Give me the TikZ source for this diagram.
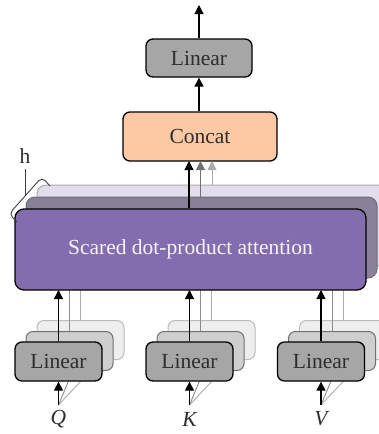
\documentclass[tikz,border=0pt]{standalone}
\usepackage{fontspec}
\setmainfont{Liberation Serif}
\usetikzlibrary{arrows.meta}
\definecolor{concatfill}{HTML}{FCC9A4}
\definecolor{attfront}{HTML}{836DAE}
\definecolor{attmid}{HTML}{8B8099}
\definecolor{attback}{HTML}{E1DDEB}
\definecolor{linfront}{HTML}{A6A6A6}
\definecolor{linmid}{HTML}{CFCFCF}
\definecolor{linback}{HTML}{EEEEEE}
\definecolor{txt}{HTML}{2E2E2E}
\definecolor{gmid}{HTML}{707070}
\definecolor{glight}{HTML}{ABABAB}
\tikzset{
  box/.style={draw=black, line width=1.3pt, rounded corners=7pt, inner sep=0pt,
    text=txt, font=\fontsize{21.5}{24}\selectfont},
  linbox/.style={box, fill=linfront, minimum width=87pt, minimum height=39pt},
  linmidbox/.style={box, draw=gmid, line width=1pt, fill=linmid, minimum width=87pt, minimum height=39pt},
  linbackbox/.style={box, draw=glight!80, line width=1pt, fill=linback, minimum width=87pt, minimum height=39pt},
  attbox/.style={box, minimum width=351pt, minimum height=81pt, rounded corners=9pt},
  arr/.style={line width=1.2pt, -{Triangle[width=9pt,length=9pt]}},
  gline/.style={line width=0.9pt, draw=gmid!80},
  lline/.style={line width=0.9pt, draw=glight},
  lbl/.style={text=txt, font=\fontsize{21.5}{24}\selectfont\itshape}
}
\begin{document}
\begin{tikzpicture}[x=1pt,y=-1pt]
\clip (0,0) rectangle (379,434);
\fill[white] (0,0) rectangle (379,434);

% output stage
\node[box, fill=linfront, minimum width=106pt, minimum height=38pt] (lout) at (199,58) {Linear};
\node[box, fill=concatfill, minimum width=154pt, minimum height=49pt] (concat) at (200,136.5) {Concat};
\coordinate (top) at (199,5);
\draw[arr] (lout.north) -- (top);
\draw[arr] (concat.north -| lout) -- (lout.south);

% stacked attention heads
\node[attbox, draw=glight, line width=1pt, fill=attback] (attC) at (212.5,225.5) {};
\node[attbox, draw=gmid, line width=1pt, fill=attmid] (attB) at (201.5,237.5) {};

% input projections: three heads for each of Q, K, V
\foreach \n/\x in {q/58.5, k/189.5, v/321}{
  \node[linbackbox] (\n C) at (\x+22,340) {};
  \node[linmidbox] (\n B) at (\x+11,351) {};
  \coordinate (\n in) at (\x,405);
  \coordinate (\n att) at (\x,290);
  \coordinate (\n attB) at (\x+11,290);
  \coordinate (\n attC) at (\x+22,290);
  \coordinate (\n hitB) at (\x+10,381);
  \coordinate (\n hitC) at (\x+22.5,381);
  \draw[gline] (\n B.north) -- (\n attB);
  \draw[lline] (\n C.north) -- (\n attC);
  \draw[gline] (\n in) -- (\n hitB);
  \draw[lline] (\n in) -- (\n hitC);
}

% head outputs into Concat
\coordinate (cA) at (189,161);
\coordinate (cB) at (200.5,161);
\coordinate (cC) at (212,161);
\draw[line width=1pt, draw=gmid, -{Triangle[width=9pt,length=9pt]}] (attB.north -| cB) -- (cB);
\draw[line width=1pt, draw=glight, -{Triangle[width=9pt,length=9pt]}] (attC.north -| cC) -- (cC);

\node[attbox, fill=attfront, text=white!92!attfront] (attA) at (190.5,249.5) {Scared dot-product attention};
\draw[arr] (attA.north -| cA) -- (cA);

\foreach \n/\x/\l in {q/58.5/Q, k/189.5/K, v/321/V}{
  \node[linbox] (\n A) at (\x,361.5) {Linear};
  \draw[arr] (\n A.north) -- (\n att);
  \draw[arr] (\n in) -- (\n A.south);
  \node[lbl] (\n lab) at (\x,419) {\l};
}

% head count bracket
\node[text=txt, font=\fontsize{21.5}{24}\selectfont] (h) at (25,156) {h};
\coordinate (hb) at (25,196);
\draw[line width=0.9pt, draw=black!75] (h.south) ++(0,2) -- (hb);
\draw[line width=0.9pt, draw=black!75, rounded corners=5pt] (17,222) -- (9,214) -- (42,177) -- (50,186);
\end{tikzpicture}
\end{document}
